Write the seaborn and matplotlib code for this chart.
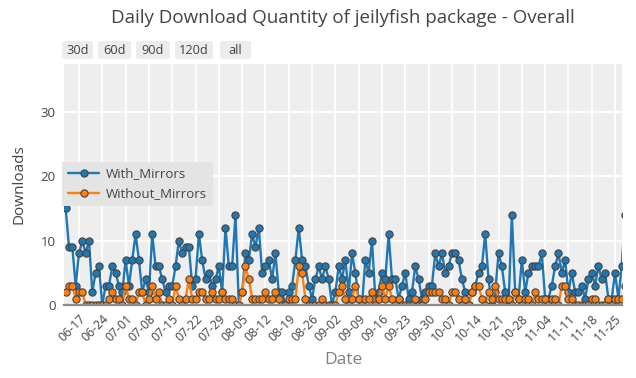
import numpy as np
import pandas as pd
import matplotlib
matplotlib.use("Agg")
import matplotlib.pyplot as plt
import seaborn as sns
from matplotlib.lines import Line2D
from matplotlib.patches import FancyBboxPatch

# ---------------- data ----------------
start_date = "2019-06-13"
with_mirrors = [
    15, 9, 9, 3, 8, 10, 8, 10, 2, 5, 6, 0, 3, 3, 6, 5, 3, 2, 7, 3,
    7, 11, 7, 2, 4, 2, 11, 6, 6, 4, 2, 3, 3, 6, 10, 8, 9, 9, 3, 4,
    11, 7, 4, 5, 3, 4, 6, 2, 12, 6, 6, 14, 0, 2, 8, 7, 11, 9, 12, 5,
    6, 7, 4, 8, 2, 2, 0, 2, 3, 7, 12, 7, 6, 3, 1, 4, 6, 4, 6, 4,
    0, 2, 6, 4, 7, 2, 8, 5, 1, 0, 7, 5, 10, 1, 2, 5, 4, 11, 4, 4,
    1, 3, 5, 1, 2, 6, 4, 1, 2, 3, 3, 8, 6, 8, 5, 6, 8, 8, 7, 4,
    2, 0, 2, 3, 5, 6, 11, 4, 0, 2, 8, 6, 2, 0, 14, 2, 1, 7, 2, 5,
    6, 6, 6, 8, 1, 1, 3, 6, 8, 5, 7, 2, 5, 2, 2, 3, 1, 4, 5, 3,
    6, 4, 5, 1, 1, 5, 1, 6, 14,
]
without_mirrors = [
    2, 3, 3, 1, 2, 2, 0, 0, 0, 0, 0, 0, 0, 1, 2, 1, 1, 0, 3, 1,
    1, 0, 2, 2, 0, 1, 3, 1, 2, 0, 0, 1, 0, 3, 1, 0, 1, 4, 1, 1,
    2, 2, 1, 1, 2, 1, 1, 2, 1, 1, 1, 0, 0, 2, 6, 4, 1, 1, 1, 1,
    2, 1, 1, 2, 1, 0, 0, 1, 1, 1, 6, 5, 1, 0, 0, 0, 0, 1, 0, 0,
    0, 0, 2, 3, 1, 0, 1, 3, 1, 0, 1, 1, 2, 0, 1, 3, 1, 3, 1, 0,
    1, 0, 0, 0, 0, 1, 0, 0, 1, 2, 2, 2, 2, 1, 1, 0, 2, 2, 1, 0,
    1, 0, 2, 3, 3, 1, 0, 2, 1, 3, 1, 1, 1, 1, 0, 2, 1, 0, 1, 1,
    0, 2, 1, 1, 1, 0, 1, 1, 0, 3, 3, 1, 1, 0, 0, 0, 0, 0, 1, 1,
    0, 0, 0, 1, 0, 1, 1, 1, 3,
]
tick_labels = ["06-17", "06-24", "07-01", "07-08", "07-15", "07-22", "07-29",
               "08-05", "08-12", "08-19", "08-26", "09-02", "09-09", "09-16",
               "09-23", "09-30", "10-07", "10-14", "10-21", "10-28", "11-04",
               "11-11", "11-18", "11-25"]
series_names = ["With_Mirrors", "Without_Mirrors"]
buttons = ["30d", "60d", "90d", "120d", "all"]

dates = pd.date_range(start_date, periods=len(with_mirrors), freq="D")
df = pd.DataFrame({"Date": dates,
                   series_names[0]: with_mirrors,
                   series_names[1]: without_mirrors})
long = df.melt("Date", var_name="series", value_name="Downloads")

# ---------------- style ----------------
sns.set_theme(style="white")
plt.rcParams["font.family"] = ["Open Sans", "DejaVu Sans"]
colors = ["#1f77b4", "#ff7f0e"]
txt = "#444444"

W, H = 636, 378
fig = plt.figure(figsize=(W / 100, H / 100), dpi=100)
L, R, T, B = 64, 622, 64, 305
ax = fig.add_axes([L / W, (H - B) / H, (R - L) / W, (B - T) / H])
ax.set_facecolor("#eeeeee")

sns.lineplot(data=long, x="Date", y="Downloads", hue="series",
             hue_order=series_names, palette=colors, marker="o",
             markersize=5.2, markeredgecolor="#444444", markeredgewidth=0.8,
             linewidth=1.7, ax=ax, legend=False)

x0 = pd.Timestamp(start_date)
ax.set_xlim(x0 - pd.Timedelta(hours=12), x0 + pd.Timedelta(hours=int(167.1 * 24)))
ax.set_ylim(0, 37.4)
ax.set_yticks([0, 10, 20, 30])
ax.set_yticklabels(["0", "10", "20", "30"], fontsize=9.5, color=txt)

tick_dates = [pd.Timestamp("2019-" + t) for t in tick_labels]
ax.set_xticks(tick_dates)
ax.set_xticklabels(tick_labels, rotation=45, ha="right",
                   rotation_mode="anchor", fontsize=8.8, color=txt)
ax.tick_params(axis="both", length=0)
ax.tick_params(axis="x", pad=5)
ax.tick_params(axis="y", pad=6)

ax.grid(True, color="white", linewidth=1.3)
ax.set_axisbelow(True)
for s in ["top", "right", "left"]:
    ax.spines[s].set_visible(False)
ax.spines["bottom"].set_color("#8a8a8a")
ax.spines["bottom"].set_linewidth(1.6)

ax.set_xlabel("Date", fontsize=12.5, color="#7f7f7f", labelpad=6)
ax.set_ylabel("Downloads", fontsize=11, color=txt, labelpad=10)

handles = [Line2D([0], [0], color=c, lw=1.7, marker="o", markersize=5.2,
                  markeredgecolor="#444444", markeredgewidth=0.8)
           for c in colors]
leg = ax.legend(handles, series_names, loc="upper left",
                bbox_to_anchor=(-0.004, 0.595), frameon=True,
                facecolor="#e4e4e4", edgecolor="none", fancybox=False,
                fontsize=9.5, handlelength=2.4, borderpad=0.45,
                labelspacing=0.5, handletextpad=0.5, borderaxespad=0)
leg.get_frame().set_alpha(1)
for t in leg.get_texts():
    t.set_color(txt)

fig.text(343 / W, 1 - 18 / H,
         "Daily Download Quantity of jeilyfish package - Overall",
         ha="center", va="center", fontsize=13.5, color=txt)

# range-selector buttons
bx = [(62, 93), (98, 131), (136, 170), (175, 213), (220, 251)]
for (a, b), lab in zip(bx, buttons):
    p = FancyBboxPatch((a / W, 1 - 59 / H), (b - a) / W, 18 / H,
                       boxstyle="round,pad=0,rounding_size=0.006",
                       transform=fig.transFigure, facecolor="#ececec",
                       edgecolor="none")
    fig.patches.append(p)
    fig.text((a + b) / 2 / W, 1 - 50 / H, lab, ha="center", va="center",
             fontsize=9.2, color=txt)

fig.savefig("out.png", dpi=100)
